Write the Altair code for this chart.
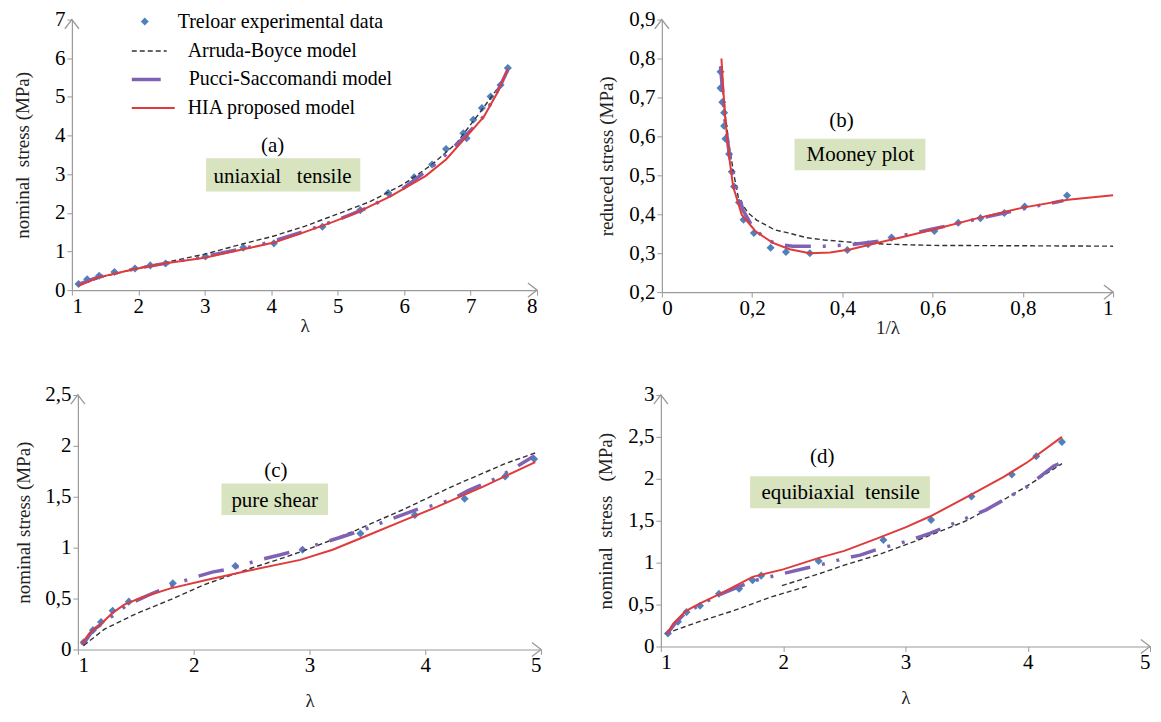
import altair as alt
import pandas as pd

FONT = "Liberation Serif, Times New Roman, Times, serif"
BLUE = "#4f81bd"
RED = "#e03b3b"
PURPLE = "#7f62b3"
DARK = "#333333"
GREEN_BOX = "#d8e4bf"
AXIS_GREY = "#9a9a9a"
LABEL_EXPR = "replace(format(datum.value, '.1~f'), '.', ',')"

legend_labels = ["Treloar experimental data", "Arruda-Boyce model",
                 "Pucci-Saccomandi model", "HIA proposed model"]

# ---------------- (a) uniaxial tensile ----------------
a_exp_x = [1.10, 1.23, 1.41, 1.64, 1.95, 2.18, 2.41, 3.01, 3.58, 4.04, 4.77, 5.34, 5.76,
           6.15, 6.42, 6.63, 6.89, 6.94, 7.04, 7.17, 7.30, 7.45, 7.56]
a_exp_y = [0.16, 0.28, 0.37, 0.47, 0.56, 0.64, 0.69, 0.87, 1.10, 1.21, 1.64, 2.07, 2.51,
           2.92, 3.25, 3.65, 4.06, 3.93, 4.41, 4.71, 5.01, 5.31, 5.75]
a_ab_x = [1.10, 1.50, 2.00, 2.50, 3.00, 3.58, 4.04, 4.50, 5.00, 5.50, 6.00, 6.42, 6.79, 7.15, 7.46, 7.56]
a_ab_y = [0.13, 0.36, 0.57, 0.75, 0.93, 1.20, 1.40, 1.65, 1.97, 2.30, 2.75, 3.25, 3.81, 4.62, 5.35, 5.65]
a_ps_x = [1.10, 1.40, 2.00, 2.50, 3.00, 3.60, 4.00, 4.50, 5.00, 5.50, 6.00, 6.50, 6.90, 7.20, 7.45, 7.56]
a_ps_y = [0.15, 0.34, 0.57, 0.72, 0.87, 1.08, 1.25, 1.52, 1.82, 2.17, 2.65, 3.30, 3.95, 4.50, 5.30, 5.70]
a_hia_x = [1.10, 1.40, 1.93, 2.44, 3.00, 3.58, 4.04, 4.50, 4.92, 5.28, 5.80, 6.32, 6.63, 6.94, 7.20, 7.40, 7.56]
a_hia_y = [0.11, 0.33, 0.54, 0.70, 0.84, 1.06, 1.23, 1.50, 1.76, 2.00, 2.43, 2.95, 3.38, 3.98, 4.49, 5.10, 5.72]

# ---------------- (b) Mooney plot ----------------
b_exp_x = [0.130, 0.130, 0.134, 0.138, 0.138, 0.141, 0.149, 0.155, 0.160, 0.171, 0.181, 0.204,
           0.241, 0.275, 0.328, 0.411, 0.457, 0.509, 0.604, 0.657, 0.706, 0.759, 0.804, 0.898]
b_exp_y = [0.766, 0.724, 0.688, 0.661, 0.627, 0.594, 0.555, 0.509, 0.471, 0.430, 0.386, 0.352,
           0.314, 0.303, 0.300, 0.308, 0.323, 0.340, 0.357, 0.378, 0.390, 0.403, 0.420, 0.448]
b_ab_x = [0.130, 0.140, 0.150, 0.160, 0.170, 0.190, 0.210, 0.250, 0.280, 0.320, 0.360, 0.430,
          0.500, 0.600, 0.800, 1.000]
b_ab_y = [0.780, 0.660, 0.570, 0.500, 0.440, 0.405, 0.385, 0.360, 0.352, 0.340, 0.334, 0.327,
          0.323, 0.320, 0.319, 0.318]
b_ps_x = [0.130, 0.140, 0.150, 0.165, 0.180, 0.200, 0.230, 0.260, 0.290, 0.360, 0.420, 0.480,
          0.540, 0.600, 0.700, 0.800, 0.890]
b_ps_y = [0.780, 0.640, 0.550, 0.470, 0.410, 0.370, 0.335, 0.322, 0.318, 0.318, 0.322, 0.331,
          0.347, 0.362, 0.388, 0.414, 0.435]
b_hia_x = [0.132, 0.140, 0.150, 0.158, 0.177, 0.207, 0.245, 0.283, 0.328, 0.373, 0.419, 0.479,
           0.543, 0.600, 0.700, 0.800, 0.900, 1.000]
b_hia_y = [0.800, 0.650, 0.540, 0.471, 0.399, 0.357, 0.327, 0.310, 0.300, 0.302, 0.310, 0.327,
           0.344, 0.360, 0.390, 0.417, 0.437, 0.449]

# ---------------- (c) pure shear ----------------
c_exp_x = [1.05, 1.13, 1.20, 1.30, 1.44, 1.82, 2.36, 2.94, 3.44, 3.91, 4.34, 4.69, 4.94]
c_exp_y = [0.07, 0.19, 0.27, 0.38, 0.47, 0.65, 0.82, 0.98, 1.14, 1.32, 1.48, 1.70, 1.87]
c_ab_x = [1.05, 1.23, 1.50, 1.80, 2.10, 2.50, 2.80, 3.00, 3.40, 3.80, 4.25, 4.70, 4.95]
c_ab_y = [0.04, 0.20, 0.35, 0.49, 0.64, 0.80, 0.91, 0.99, 1.17, 1.37, 1.61, 1.83, 1.93]
c_ps_x = [1.05, 1.13, 1.23, 1.43, 1.63, 1.88, 2.01, 2.16, 2.31, 2.57, 2.75, 3.01, 3.29, 3.50,
          3.69, 3.94, 4.09, 4.22, 4.37, 4.63, 4.75, 4.94]
c_ps_y = [0.06, 0.19, 0.27, 0.44, 0.545, 0.66, 0.71, 0.76, 0.79, 0.88, 0.93, 1.01, 1.11, 1.19,
          1.275, 1.38, 1.42, 1.47, 1.56, 1.69, 1.77, 1.90]
c_hia_x = [1.03, 1.10, 1.20, 1.30, 1.40, 1.55, 1.80, 2.10, 2.50, 2.92, 3.20, 3.50, 3.80, 4.10,
           4.50, 4.95]
c_hia_y = [0.05, 0.16, 0.25, 0.36, 0.44, 0.51, 0.60, 0.68, 0.78, 0.88, 0.98, 1.12, 1.26, 1.40,
           1.60, 1.84]

# ---------------- (d) equibiaxial tensile ----------------
d_exp_x = [1.058, 1.14, 1.21, 1.32, 1.475, 1.64, 1.75, 1.82, 2.29, 2.82, 3.21, 3.54, 3.87, 4.07, 4.28]
d_exp_y = [0.155, 0.295, 0.41, 0.486, 0.63, 0.69, 0.79, 0.845, 1.02, 1.27, 1.51, 1.79, 2.05, 2.27, 2.44]
d_ab_seg = [1, 1, 1, 1, 1, 2, 2, 2, 2, 2, 2, 2, 2, 2]
d_ab_x = [1.04, 1.30, 1.60, 1.90, 2.20, 1.99, 2.30, 2.50, 2.77, 3.07, 3.50, 3.70, 3.99, 4.28]
d_ab_y = [0.155, 0.29, 0.43, 0.59, 0.72, 0.725, 0.87, 0.97, 1.09, 1.25, 1.50, 1.66, 1.91, 2.18]
d_ps_x = [1.05, 1.12, 1.20, 1.35, 1.50, 1.75, 2.00, 2.20, 2.35, 2.50, 2.63, 2.75, 3.00, 3.20,
          3.40, 3.66, 4.00, 4.21, 4.27]
d_ps_y = [0.15, 0.28, 0.40, 0.52, 0.63, 0.78, 0.87, 0.94, 0.99, 1.05, 1.09, 1.15, 1.25, 1.35,
          1.47, 1.63, 1.91, 2.15, 2.19]
d_hia_x = [1.05, 1.10, 1.20, 1.30, 1.50, 1.75, 2.00, 2.30, 2.50, 2.77, 3.00, 3.20, 3.50, 3.80,
           4.00, 4.28]
d_hia_y = [0.15, 0.27, 0.42, 0.50, 0.64, 0.83, 0.92, 1.06, 1.14, 1.29, 1.42, 1.55, 1.78, 2.02,
           2.20, 2.50]


def xy(xs, ys, seg=None):
    df = pd.DataFrame({"x": xs, "y": ys})
    df["seg"] = seg if seg is not None else [1] * len(xs)
    return df


def panel(exp, ab, ps, hia, xdom, ydom, xticks, yticks, xtitle, ytitle, w, h,
          tag, tag_pos, box_text, box, text_pos, ytp, xtp, legend=False, xshift=0):
    xscale = alt.Scale(domain=xdom, nice=False, zero=False)
    if xshift:
        xscale = alt.Scale(domain=xdom, nice=False, zero=False, range=[xshift, w])
    X = alt.X("x:Q", scale=xscale,
              axis=alt.Axis(values=xticks, title=xtitle, labelExpr=LABEL_EXPR,
                            titlePadding=xtp, labelPadding=0))
    Y = alt.Y("y:Q", scale=alt.Scale(domain=ydom, nice=False, zero=False),
              axis=alt.Axis(values=yticks, title=ytitle, labelExpr=LABEL_EXPR,
                            titlePadding=ytp, labelPadding=2, offset=-xshift))
    layers = []
    # annotation box and texts
    box_df = pd.DataFrame({"x": [box[0]], "x2": [box[1]], "y": [box[2]], "y2": [box[3]]})
    layers.append(alt.Chart(box_df).mark_rect(color=GREEN_BOX).encode(
        x=X, x2="x2:Q", y=Y, y2="y2:Q"))
    txt_df = pd.DataFrame({"x": [tag_pos[0], text_pos[0]], "y": [tag_pos[1], text_pos[1]],
                           "t": [tag, box_text]})
    layers.append(alt.Chart(txt_df).mark_text(font=FONT, fontSize=21, color="black").encode(
        x=X, y=Y, text="t:N"))
    # data and models
    layers.append(alt.Chart(exp).mark_point(shape="diamond", filled=True, color=BLUE,
                                            size=65, opacity=1).encode(x=X, y=Y))
    layers.append(alt.Chart(ab).mark_line(color=DARK, strokeWidth=1.4,
                                          strokeDash=[5, 3]).encode(x=X, y=Y, detail="seg:N"))
    layers.append(alt.Chart(ps).mark_line(color=PURPLE, strokeWidth=3.5,
                                          strokeDash=[26, 12, 3, 12, 3, 12]).encode(x=X, y=Y))
    layers.append(alt.Chart(hia).mark_line(color=RED, strokeWidth=2).encode(x=X, y=Y))
    # axis arrow heads
    arr_x = pd.DataFrame({"x": [xdom[1]], "y": [ydom[0]]})
    arr_y = pd.DataFrame({"x": [xdom[0]], "y": [ydom[1]]})
    layers.append(alt.Chart(arr_x).mark_point(shape="M-1.3,-1L0,0L-1.3,1", filled=False,
                                              color=AXIS_GREY, size=200, strokeWidth=1.3,
                                              opacity=1).encode(x=X, y=Y))
    layers.append(alt.Chart(arr_y).mark_point(shape="M-1,1.3L0,0L1,1.3", filled=False,
                                              color=AXIS_GREY, size=200, strokeWidth=1.3,
                                              opacity=1).encode(x=X, y=Y))
    if legend:
        one = pd.DataFrame({"k": [0]})
        ty = [2, 31.5, 60, 88.5]
        layers.append(alt.Chart(one).mark_point(shape="diamond", filled=True, color=BLUE,
                                                size=65, opacity=1).encode(
            x=alt.value(73), y=alt.value(ty[0])))
        layers.append(alt.Chart(one).mark_rule(color=DARK, strokeWidth=1.4,
                                               strokeDash=[5, 3]).encode(
            x=alt.value(60), x2=alt.value(95), y=alt.value(ty[1])))
        layers.append(alt.Chart(one).mark_rule(color=PURPLE, strokeWidth=3.5).encode(
            x=alt.value(60), x2=alt.value(89), y=alt.value(ty[2])))
        layers.append(alt.Chart(one).mark_rule(color=RED, strokeWidth=2).encode(
            x=alt.value(60), x2=alt.value(103), y=alt.value(ty[3])))
        text_x = [106, 116, 117, 116]
        for i, lab in enumerate(legend_labels):
            layers.append(alt.Chart(one).mark_text(font=FONT, fontSize=20, color="black",
                                                   align="left", baseline="middle").encode(
                x=alt.value(text_x[i]), y=alt.value(ty[i]),
                text=alt.value(lab)))
    return alt.layer(*layers).properties(width=w, height=h)


NB = "\u00a0"
pa = panel(xy(a_exp_x, a_exp_y), xy(a_ab_x, a_ab_y), xy(a_ps_x, a_ps_y), xy(a_hia_x, a_hia_y),
           [1, 8], [0, 7], list(range(1, 9)), list(range(0, 8)), "λ",
           "nominal" + NB * 2 + "stress (MPa)", 466, 271,
           "(a)", (4.02, 3.72), "uniaxial" + NB * 3 + "tensile", (3.02, 5.34, 3.41, 2.55),
           (4.17, 2.93), 22, 0, legend=True)
pb = panel(xy(b_exp_x, b_exp_y), xy(b_ab_x, b_ab_y), xy(b_ps_x, b_ps_y), xy(b_hia_x, b_hia_y),
           [0, 1], [0.2, 0.9], [0, 0.2, 0.4, 0.6, 0.8, 1],
           [0.2, 0.3, 0.4, 0.5, 0.6, 0.7, 0.8, 0.9], "1/λ", "reduced stress (MPa)", 452, 273,
           "(b)", (0.398, 0.639), "Mooney plot", (0.294, 0.584, 0.594, 0.513),
           (0.44, 0.552), 12, 0)
pc = panel(xy(c_exp_x, c_exp_y), xy(c_ab_x, c_ab_y), xy(c_ps_x, c_ps_y), xy(c_hia_x, c_hia_y),
           [1, 5], [0, 2.5], [1, 2, 3, 4, 5], [0, 0.5, 1, 1.5, 2, 2.5], "λ",
           "nominal stress (MPa)", 470, 255,
           "(c)", (2.71, 1.75), "pure shear", (2.24, 3.16, 1.63, 1.32), (2.70, 1.46), 11, 16,
           xshift=6)
pd_ = panel(xy(d_exp_x, d_exp_y), xy(d_ab_x, d_ab_y, d_ab_seg), xy(d_ps_x, d_ps_y),
            xy(d_hia_x, d_hia_y),
            [1, 5], [0, 3], [1, 2, 3, 4, 5], [0, 0.5, 1, 1.5, 2, 2.5, 3], "λ",
            "nominal" + NB * 2 + "stress" + NB * 3 + "(MPa)", 490, 252,
            "(d)", (2.32, 2.26), "equibiaxial" + NB * 2 + "tensile", (1.73, 3.20, 2.03, 1.65),
            (2.47, 1.83), 12, 16)

top = alt.hconcat(pa, pb, spacing=57)
bottom = alt.hconcat(pc, pd_, spacing=52)
chart = alt.vconcat(top, bottom, spacing=47).properties(
    padding={"left": 5, "top": 0, "right": 0, "bottom": 0}
).configure_view(stroke=None).configure_axis(
    grid=False, domainColor=AXIS_GREY, tickColor=AXIS_GREY, domainWidth=1.2,
    labelFont=FONT, labelFontSize=21, labelColor="black", tickSize=5,
    titleFont=FONT, titleFontSize=19, titleFontWeight="normal", titleColor="#222222"
)

chart.save("out.html", embed_options={"renderer": "svg", "actions": False})
